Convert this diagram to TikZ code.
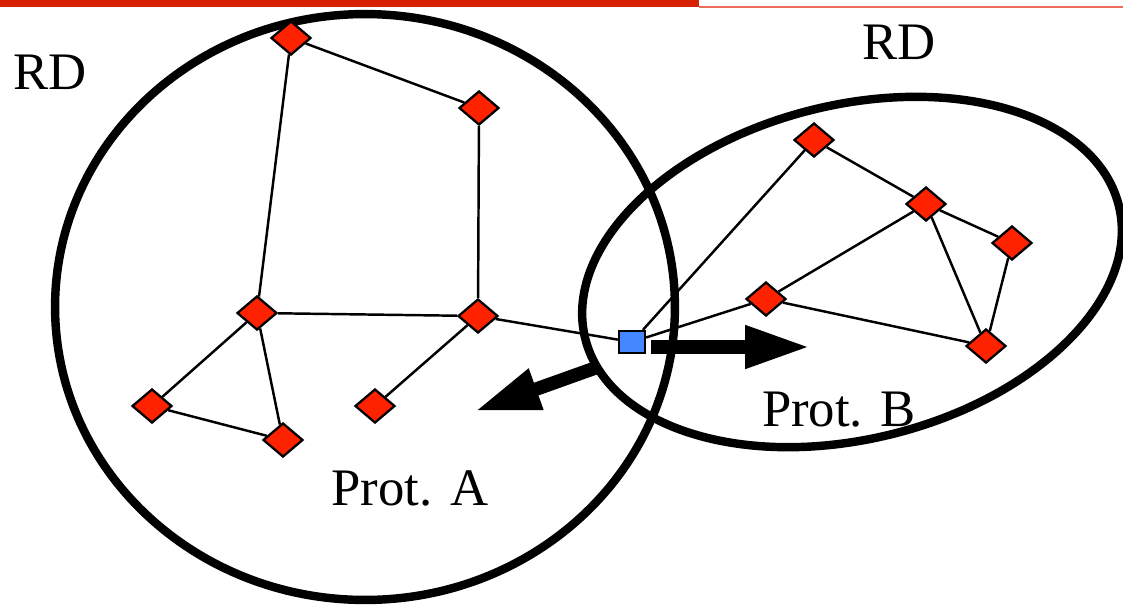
\documentclass[tikz,border=0pt]{standalone}
\usepackage{fontspec}
\setmainfont{Liberation Serif}
\definecolor{barred}{RGB}{214,32,0}
\definecolor{barlt}{RGB}{236,110,90}
\definecolor{resred}{RGB}{255,34,0}
\definecolor{hubblue}{RGB}{68,136,255}
\usetikzlibrary{arrows.meta,shapes.geometric}
\tikzset{
  dom/.style={draw=black,line width=4.8pt},
  lbl/.style={font=\fontsize{30}{36}\selectfont,inner sep=0pt},
}

\begin{document}
\begin{tikzpicture}[x=0.02cm,y=-0.02cm,
        res/.style={diamond,draw=black,line width=1.3pt,fill=resred,
                    minimum width=0.8cm,minimum height=0.68cm,inner sep=0pt},
        hub/.style={rectangle,draw=black,line width=1.3pt,fill=hubblue,
                    minimum width=0.52cm,minimum height=0.44cm,inner sep=0pt},
        ln/.style={line width=1.4pt},
        fat/.style={-{Triangle[length=1.3cm,width=0.8cm]},line width=0.27cm},
      ]
        \useasboundingbox (0,0) rectangle (1123,606);

        % ── Title bar
        \fill[barred] (0,0) rectangle (699,6.5);
        \fill[barlt] (699,6) rectangle (1123,7.5);

        % ── Domains
        \draw[dom] (365,307) ellipse [x radius=6.2cm,y radius=5.86cm];
        \draw[dom,rotate around={14:(852,272)}]
          (852,272) ellipse [x radius=5.5cm,y radius=3.34cm];

        % ── Labels
        \node[lbl] (rdA) at (50,72) {RD};
        \node[lbl] (rdB) at (899,42) {RD};
        \node[lbl] (protA) at (410,488) {Prot. A};
        \node[lbl] (protB) at (839,410) {Prot. B};

        % ── Protein A
        \node[res] (a1) at (291,38)  {};
        \node[res] (a2) at (479,108) {};
        \node[res] (a3) at (257,313) {};
        \node[res] (a4) at (478,316) {};
        \node[res] (a5) at (152,406) {};
        \node[res] (a6) at (283,440) {};
        \node[res] (a7) at (375,406) {};

        % ── Shared site
        \node[hub] (hub) at (632,342) {};

        % ── Protein B
        \node[res] (b1) at (814,140) {};
        \node[res] (b2) at (926,204) {};
        \node[res] (b3) at (1012,243) {};
        \node[res] (b4) at (766,299) {};
        \node[res] (b5) at (986,346) {};

        % ── Contacts
        \draw[ln] (a1)--(a2); \draw[ln] (a1)--(a3);
        \draw[ln] (a2)--(a4); \draw[ln] (a3)--(a4);
        \draw[ln] (a3)--(a5); \draw[ln] (a3)--(a6);
        \draw[ln] (a5)--(a6); \draw[ln] (a4)--(a7);
        \draw[ln] (a4)--(hub);
        \draw[ln] (hub)--(b1); \draw[ln] (hub)--(b4);
        \draw[ln] (b1)--(b2); \draw[ln] (b2)--(b4);
        \draw[ln] (b2)--(b3); \draw[ln] (b2)--(b5);
        \draw[ln] (b3)--(b5); \draw[ln] (b4)--(b5);

        % ── Arrows
        \coordinate (outB) at (651,347);
        \coordinate (inB)  at (810,347);
        \coordinate (outA) at (598,367);
        \coordinate (inA)  at (475,411);
        \draw[fat] (outB)--(inB);
        \draw[fat] (outA)--(inA);
      \end{tikzpicture}
\end{document}
